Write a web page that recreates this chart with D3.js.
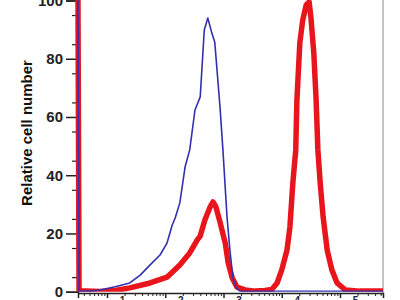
<!DOCTYPE html>
<html>
<head>
<meta charset="utf-8">
<script src="https://cdn.jsdelivr.net/npm/d3@7"></script>
<style>
  body { margin: 0; background: #fff; }
  svg { display: block; font-family: "Liberation Sans", Arial, sans-serif; }
</style>
</head>
<body>
<script>
// histogram data, x as log10 of fluorescence, y as relative cell number
let blueLog = [0.50, 0.52, 0.71, 0.88, 1.14, 1.39, 1.57, 1.74, 1.91, 2.03, 2.12, 2.17, 2.25, 2.30, 2.34, 2.42, 2.51, 2.60, 2.67, 2.73, 2.80, 2.85, 2.94, 2.99, 3.06, 3.11, 3.16, 3.21, 3.28, 3.63, 5.74];
let blueCount = [110, 0.3, 0.2, 0.6, 1.7, 3.0, 5.7, 9.2, 12.6, 16.7, 22.9, 25.3, 30.5, 37.3, 42.8, 48.7, 62.4, 66.9, 89.9, 94.0, 88.8, 85.7, 63.4, 48.7, 25.7, 14.3, 5.0, 1.6, 0.2, 0.1, 0.1];

let redLog = [0.50, 0.52, 0.88, 1.14, 1.39, 1.74, 2.03, 2.25, 2.42, 2.55, 2.60, 2.68, 2.77, 2.82, 2.87, 2.94, 3.03, 3.08, 3.15, 3.23, 3.37, 3.54, 3.71, 3.83, 3.92, 4.00, 4.09, 4.14, 4.19, 4.24, 4.26, 4.31, 4.36, 4.42, 4.47, 4.50, 4.55, 4.59, 4.62, 4.66, 4.71, 4.78, 4.86, 4.95, 5.09, 5.34, 5.74];
let redCount = [110, 0.3, 0.1, 0.4, 1.3, 3.0, 5.0, 9.2, 13.3, 17.8, 19.1, 24.6, 29.1, 30.8, 29.1, 23.9, 16.7, 9.9, 4.7, 1.6, 0.6, 0.2, 0.4, 0.8, 3.0, 7.5, 14.3, 22.2, 37.3, 48.7, 65.8, 85.4, 93.3, 98.5, 99.5, 94.3, 82.0, 65.8, 48.7, 37.3, 25.7, 14.3, 7.5, 3.0, 0.6, 0.2, 0.2];

let decadeTicks = [10, 100, 1000, 10000, 100000];
let decadeLabels = ["1", "2", "3", "4", "5"];
let yTicks = [0, 20, 40, 60, 80, 100];

let width = 400, height = 300;
let plot = {left: 78, right: 383, top: 0.5, bottom: 291.7};

let svg = d3.select("body").append("svg")
    .attr("width", width)
    .attr("height", height);

let x = d3.scaleLog()
    .domain([Math.pow(10, 0.502), Math.pow(10, 5.738)])
    .range([plot.left, plot.right]);
let y = d3.scaleLinear().domain([0, 100]).range([plot.bottom, plot.top]);

let blue = blueLog.map((e, i) => ({v: Math.pow(10, e), c: blueCount[i]}));
let red = redLog.map((e, i) => ({v: Math.pow(10, e), c: redCount[i]}));

let line = d3.line()
    .x(d => x(d.v))
    .y(d => y(d.c));

svg.append("clipPath").attr("id", "clip")
  .append("rect")
    .attr("x", 70).attr("y", -5)
    .attr("width", plot.right - 70).attr("height", plot.bottom + 5);

// right frame line
svg.append("line")
    .attr("x1", plot.right).attr("x2", plot.right)
    .attr("y1", 0).attr("y2", 293)
    .attr("stroke", "#888").attr("stroke-width", 1);

// y axis
let yAxis = svg.append("g")
    .attr("transform", "translate(" + plot.left + ",0)")
    .call(d3.axisLeft(y).tickValues(yTicks).tickSize(12).tickPadding(3));
yAxis.select(".domain").attr("stroke", "#222").attr("stroke-width", 1.5);
yAxis.selectAll(".tick line").attr("stroke", "#222").attr("stroke-width", 1.5);
yAxis.selectAll(".tick text")
    .attr("font-size", 15).attr("font-weight", "bold").attr("fill", "#222");
svg.append("g")
    .attr("transform", "translate(" + plot.left + ",0)")
    .call(d3.axisLeft(y).tickValues(d3.range(5, 100, 10)).tickSize(6).tickFormat(""))
    .call(g => g.select(".domain").remove())
    .selectAll(".tick line").attr("stroke", "#222").attr("stroke-width", 1.2);

// x axis
let minor = [];
for (let p = 0; p <= 5; p++) {
  for (let m = 2; m <= 9; m++) {
    let v = m * Math.pow(10, p);
    if (v > x.domain()[0] && v < x.domain()[1]) minor.push(v);
  }
}
let xAxis = svg.append("g")
    .attr("transform", "translate(0,293)")
    .call(d3.axisBottom(x).tickValues(decadeTicks).tickSize(5).tickFormat(""));
xAxis.select(".domain").attr("stroke", "#222").attr("stroke-width", 1.5);
xAxis.selectAll(".tick line").attr("stroke", "#222").attr("stroke-width", 1.5);
svg.append("g")
    .attr("transform", "translate(0,293)")
    .call(d3.axisBottom(x).tickValues(minor).tickSize(3).tickFormat(""))
    .call(g => g.select(".domain").remove())
    .selectAll(".tick line").attr("stroke", "#222").attr("stroke-width", 1);

// decade labels, only the exponent peeks above the bottom edge
decadeTicks.forEach((t, i) => {
  let lab = svg.append("text")
      .attr("x", x(t) - 4)
      .attr("y", 312)
      .attr("font-size", 15).attr("font-weight", "bold").attr("fill", "#222");
  lab.append("tspan").text("10");
  lab.append("tspan").attr("font-size", 10).attr("dy", -8).text(decadeLabels[i]);
});

// y axis title
svg.append("text")
    .attr("transform", "translate(32," + 133 + ") rotate(-90)")
    .attr("text-anchor", "middle")
    .attr("font-size", 15).attr("font-weight", "bold").attr("fill", "#111")
    .text("Relative cell number");

// histograms
let curves = svg.append("g").attr("clip-path", "url(#clip)");
curves.append("path")
    .datum(red)
    .attr("fill", "none")
    .attr("stroke", "#e8161c")
    .attr("stroke-width", 5.5)
    .attr("stroke-linejoin", "round")
    .attr("d", line);
curves.append("path")
    .datum(blue)
    .attr("fill", "none")
    .attr("stroke", "#3330b0")
    .attr("stroke-width", 1.6)
    .attr("stroke-linejoin", "round")
    .attr("d", line);
</script>
</body>
</html>
